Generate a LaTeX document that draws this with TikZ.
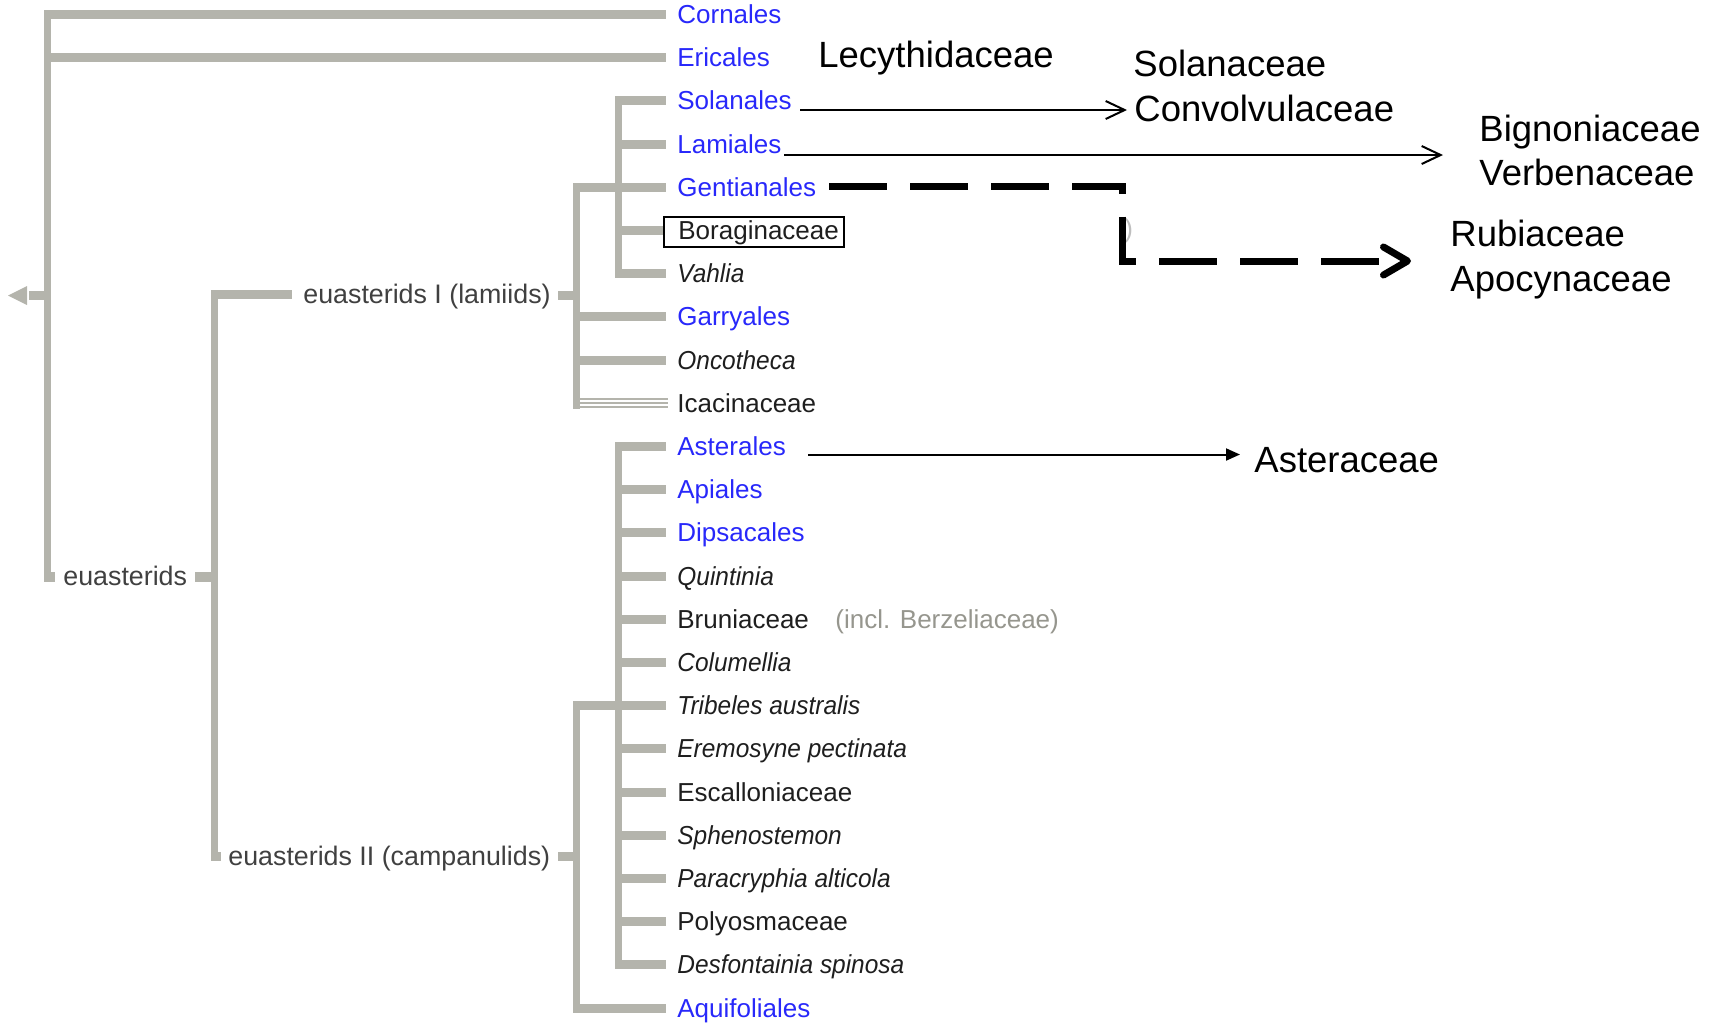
\documentclass[tikz,border=0pt]{standalone}
\usepackage{fontspec}
\setmainfont{Liberation Sans}
\newfontfamily\narrowit[FakeStretch=0.94]{Liberation Sans}
\usetikzlibrary{arrows.meta}
\definecolor{treegray}{RGB}{180,180,172}
\definecolor{taxblue}{RGB}{40,40,250}
\definecolor{taxblack}{RGB}{30,30,30}
\definecolor{notegray}{RGB}{150,150,142}
\definecolor{faintgray}{RGB}{190,190,190}
\newcommand\ry[1]{(14.5+43.2*#1)}
\newcommand\treeH[3]{\fill[treegray] (#1,{#3-4.5}) rectangle (#2,{#3+4.5});}
\begin{document}
\begin{tikzpicture}[x=0.5pt,y=-0.5pt,
  taxb/.style={anchor=base west, inner sep=0pt, font=\fontsize{13}{15}\selectfont, text=taxblue},
  taxk/.style={anchor=base west, inner sep=0pt, font=\fontsize{13}{15}\selectfont, text=taxblack},
  taxi/.style={anchor=base west, inner sep=0pt, font=\fontsize{13}{15}\selectfont\narrowit\itshape, text=taxblack},
  clade/.style={anchor=base west, inner sep=0pt, font=\fontsize{13.4}{15}\selectfont, text=taxblack!85},
  big/.style={anchor=base west, inner sep=0pt, font=\fontsize{18.25}{22}\selectfont, text=black},
  thinarr/.style={draw=black, line width=1pt, -{Straight Barb[length=9.5pt,width=9pt]}},
  filledarr/.style={draw=black, line width=1pt, -{Triangle[length=7pt,width=6pt]}},
  dasharr/.style={draw=black, line width=3.5pt, dash pattern=on 29pt off 11.5pt,
     -{Straight Barb[length=12pt,width=14pt,round]}}
]
\path[use as bounding box] (0,0) rectangle (1720,1024);

% ---------- tree: root ----------
\fill[treegray] (44,10) rectangle (51,582);
\treeH{44}{666}{\ry{0}}
\treeH{44}{666}{\ry{1}}
\fill[treegray] (44,572) rectangle (55,582);
\fill[treegray] (29,291) rectangle (44,300);
\fill[treegray] (8,295.5) -- (27,286) -- (27,305) -- cycle;

% euasterids
\fill[treegray] (195,572) rectangle (214,582);
\fill[treegray] (211,290) rectangle (218,861);
\fill[treegray] (211,290) rectangle (292,299);
\fill[treegray] (211,852) rectangle (221,861);

% lamiids
\fill[treegray] (558,290.5) rectangle (576,299.5);
\fill[treegray] (573,183) rectangle (580,409);
\treeH{573}{666}{\ry{4}}
\treeH{573}{666}{\ry{7}}
\treeH{573}{666}{\ry{8}}
\foreach \yy in {399,403,407} {\draw[treegray, line width=0.9pt] (573,\yy) -- (668,\yy);}
\fill[treegray] (615,96.4) rectangle (622,278.2);
\treeH{615}{666}{\ry{2}}
\treeH{615}{666}{\ry{3}}
\treeH{615}{663}{\ry{5}}
\treeH{615}{666}{\ry{6}}

% campanulids
\fill[treegray] (558,852) rectangle (576,861);
\fill[treegray] (573,701.2) rectangle (580,1012.6);
\treeH{573}{666}{\ry{16}}
\treeH{573}{666}{\ry{23}}
\fill[treegray] (615,442) rectangle (622,969.4);
\foreach \i in {10,...,22} {\treeH{615}{666}{\ry{\i}}}

% ---------- clade labels ----------
\node[clade] (euast) at (63,585) {euasterids};
\node[clade] (lamiids) at (303,303.5) {euasterids I (lamiids)};
\node[clade] (campan) at (228,865.5) {euasterids II (campanulids)};

% ---------- taxa ----------
\node[taxb] (cornales) at (677,{\ry{0}+9}) {Cornales};
\node[taxb] (ericales) at (677,{\ry{1}+9}) {Ericales};
\node[taxb] (solanales) at (677,{\ry{2}+9}) {Solanales};
\node[taxb] (lamiales) at (677,{\ry{3}+9}) {Lamiales};
\node[taxb] (gentianales) at (677,{\ry{4}+9}) {Gentianales};
\node[taxk] (boraginaceae) at (678,{\ry{5}+9}) {Boraginaceae};
\node[taxi] (vahlia) at (677,{\ry{6}+9}) {Vahlia};
\node[taxb] (garryales) at (677,{\ry{7}+9}) {Garryales};
\node[taxi] (oncotheca) at (677,{\ry{8}+9}) {Oncotheca};
\node[taxk] (icacinaceae) at (677,{\ry{9}+9}) {Icacinaceae};
\node[taxb] (asterales) at (677,{\ry{10}+9}) {Asterales};
\node[taxb] (apiales) at (677,{\ry{11}+9}) {Apiales};
\node[taxb] (dipsacales) at (677,{\ry{12}+9}) {Dipsacales};
\node[taxi] (quintinia) at (677,{\ry{13}+9}) {Quintinia};
\node[taxk] (bruniaceae) at (677,{\ry{14}+9}) {Bruniaceae};
\node[anchor=base west, inner sep=0pt, font=\fontsize{13}{15}\selectfont, text=notegray] (berz) at (835,{\ry{14}+9}) {(incl. Berzeliaceae)};
\node[taxi] (columellia) at (677,{\ry{15}+9}) {Columellia};
\node[taxi] (tribeles) at (677,{\ry{16}+9}) {Tribeles australis};
\node[taxi] (eremosyne) at (677,{\ry{17}+9}) {Eremosyne pectinata};
\node[taxk] (escallon) at (677,{\ry{18}+9}) {Escalloniaceae};
\node[taxi] (sphenost) at (677,{\ry{19}+9}) {Sphenostemon};
\node[taxi] (paracryph) at (677,{\ry{20}+9}) {Paracryphia alticola};
\node[taxk] (polyosm) at (677,{\ry{21}+9}) {Polyosmaceae};
\node[taxi] (desfont) at (677,{\ry{22}+9}) {Desfontainia spinosa};
\node[taxb] (aquifol) at (677,{\ry{23}+9}) {Aquifoliales};

\draw[black, line width=1pt] (663.5,216.5) rectangle (844,247);
\node[anchor=base west, inner sep=0pt, font=\fontsize{13}{15}\selectfont, text=faintgray] (paren) at (1124,237.5) {)};

% ---------- family labels ----------
\node[big] (lecyth) at (818,67) {Lecythidaceae};
\node[big] (solanac) at (1133,76.5) {Solanaceae};
\node[big] (convolv) at (1134,121.5) {Convolvulaceae};
\node[big] (bignon) at (1479,141.7) {Bignoniaceae};
\node[big] (verben) at (1479,185.5) {Verbenaceae};
\node[big] (rubiac) at (1450,246) {Rubiaceae};
\node[big] (apocyn) at (1450,291.5) {Apocynaceae};
\node[big] (asterac) at (1254,472.6) {Asteraceae};

% ---------- arrows ----------
\coordinate (solA) at (800,110);
\coordinate (solB) at (1127,110);
\coordinate (lamA) at (784,155);
\coordinate (lamB) at (1443,155);
\coordinate (genA) at (829,186);
\coordinate (genC) at (1122.5,186);
\coordinate (genD) at (1122.5,261);
\coordinate (genB) at (1411,261);
\coordinate (astA) at (808,454.5);
\coordinate (astB) at (1240,454.5);
\draw[thinarr] (solA) -- (solB);
\draw[thinarr] (lamA) -- (lamB);
\draw[dasharr] (genA) -- (genC) -- (genD) -- (genB);
\draw[filledarr] (astA) -- (astB);
\end{tikzpicture}
\end{document}
